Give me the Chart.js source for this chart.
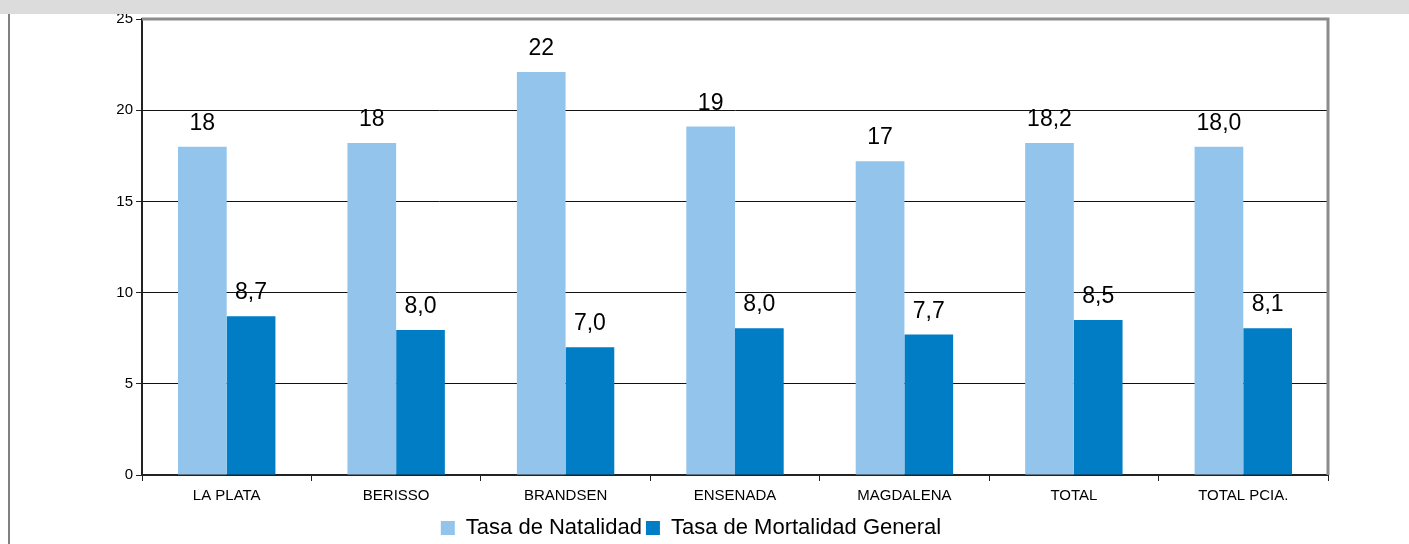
<!DOCTYPE html>
<html>
<head>
<meta charset="utf-8">
<script src="https://cdn.jsdelivr.net/npm/chart.js@4"></script>
<style>
    body { margin: 0; background: #fff; width: 1409px; height: 544px; overflow: hidden; position: relative; }
    #band { position: absolute; left: 0; top: 0; width: 1409px; height: 14px; background: #dcdcdc; z-index: 2; }
    #edge { position: absolute; left: 8px; top: 14px; width: 2px; height: 530px; background: #808080; }
    #myChart { position: absolute; left: 54px; top: 7px; z-index: 1; }
</style>
</head>
<body>
<div id="band"></div>
<div id="edge"></div>
<canvas id="myChart" width="1280" height="542"></canvas>
<script>
var categories = ['LA PLATA', 'BERISSO', 'BRANDSEN', 'ENSENADA', 'MAGDALENA', 'TOTAL', 'TOTAL PCIA.'];
var natalidad = [18.0, 18.2, 22.1, 19.1, 17.2, 18.2, 18.0];
var mortalidad = [8.7, 7.95, 7.0, 8.05, 7.7, 8.5, 8.05];
var natLabels = ['18', '18', '22', '19', '17', '18,2', '18,0'];
var mortLabels = ['8,7', '8,0', '7,0', '8,0', '7,7', '8,5', '8,1'];
var yTicks = [0, 5, 10, 15, 20, 25];

var FONT = "'Liberation Sans', Arial, sans-serif";

// numbers above each bar
var barLabels = {
    id: 'barLabels',
    afterDatasetsDraw: function (chart) {
        var ctx = chart.ctx;
        var texts = [natLabels, mortLabels];
        ctx.save();
        ctx.font = '23px ' + FONT;
        ctx.fillStyle = '#000';
        ctx.textAlign = 'center';
        ctx.textBaseline = 'alphabetic';
        chart.data.datasets.forEach(function (ds, i) {
            chart.getDatasetMeta(i).data.forEach(function (bar, j) {
                ctx.fillText(texts[i][j], bar.x, bar.y - 17);
            });
        });
        ctx.restore();
    }
};

// grey frame on top and right of the plot
var frame = {
    id: 'frame',
    afterDraw: function (chart) {
        var a = chart.chartArea;
        var ctx = chart.ctx;
        ctx.save();
        ctx.strokeStyle = '#8c8c8c';
        ctx.lineWidth = 3;
        ctx.beginPath();
        ctx.moveTo(a.left, a.top);
        ctx.lineTo(a.right, a.top);
        ctx.lineTo(a.right, a.bottom);
        ctx.stroke();
        ctx.restore();
    }
};

var ctx = document.getElementById('myChart').getContext('2d');
new Chart(ctx, {
    type: 'bar',
    data: {
        labels: categories,
        datasets: [{
            label: 'Tasa de Natalidad',
            data: natalidad,
            backgroundColor: '#93c5ec',
            borderWidth: 0,
            categoryPercentage: 0.575,
            barPercentage: 1.0
        }, {
            label: 'Tasa de Mortalidad General',
            data: mortalidad,
            backgroundColor: '#007dc5',
            borderWidth: 0,
            categoryPercentage: 0.575,
            barPercentage: 1.0
        }]
    },
    options: {
        responsive: false,
        animation: false,
        devicePixelRatio: 1,
        layout: { padding: { top: 4, right: 6, left: 0, bottom: 0 } },
        scales: {
            x: {
                grid: {
                    display: true,
                    drawOnChartArea: false,
                    drawTicks: true,
                    tickLength: 6,
                    color: '#222',
                    offset: true
                },
                border: { color: '#222', width: 2 },
                ticks: {
                    color: '#000',
                    padding: 6,
                    maxRotation: 0,
                    font: { family: FONT, size: 15 }
                },
                afterFit: function (s) { s.height = 38; }
            },
            y: {
                min: 0,
                max: 25,
                afterBuildTicks: function (s) {
                    s.ticks = yTicks.map(function (v) { return { value: v }; });
                },
                grid: {
                    color: function (c) { return c.tick && c.tick.value === 25 ? 'rgba(0,0,0,0)' : '#111'; },
                    tickColor: '#222',
                    tickLength: 6,
                    lineWidth: 1
                },
                border: { color: '#222', width: 2 },
                ticks: {
                    color: '#000',
                    padding: 3,
                    font: { family: FONT, size: 15 }
                },
                afterFit: function (s) { s.width = 88; }
            }
        },
        plugins: {
            legend: {
                position: 'bottom',
                labels: {
                    boxWidth: 14,
                    boxHeight: 14,
                    padding: 4,
                    color: '#000',
                    font: { family: FONT, size: 22 }
                }
            },
            tooltip: { enabled: false }
        }
    },
    plugins: [barLabels, frame]
});
</script>
</body>
</html>
